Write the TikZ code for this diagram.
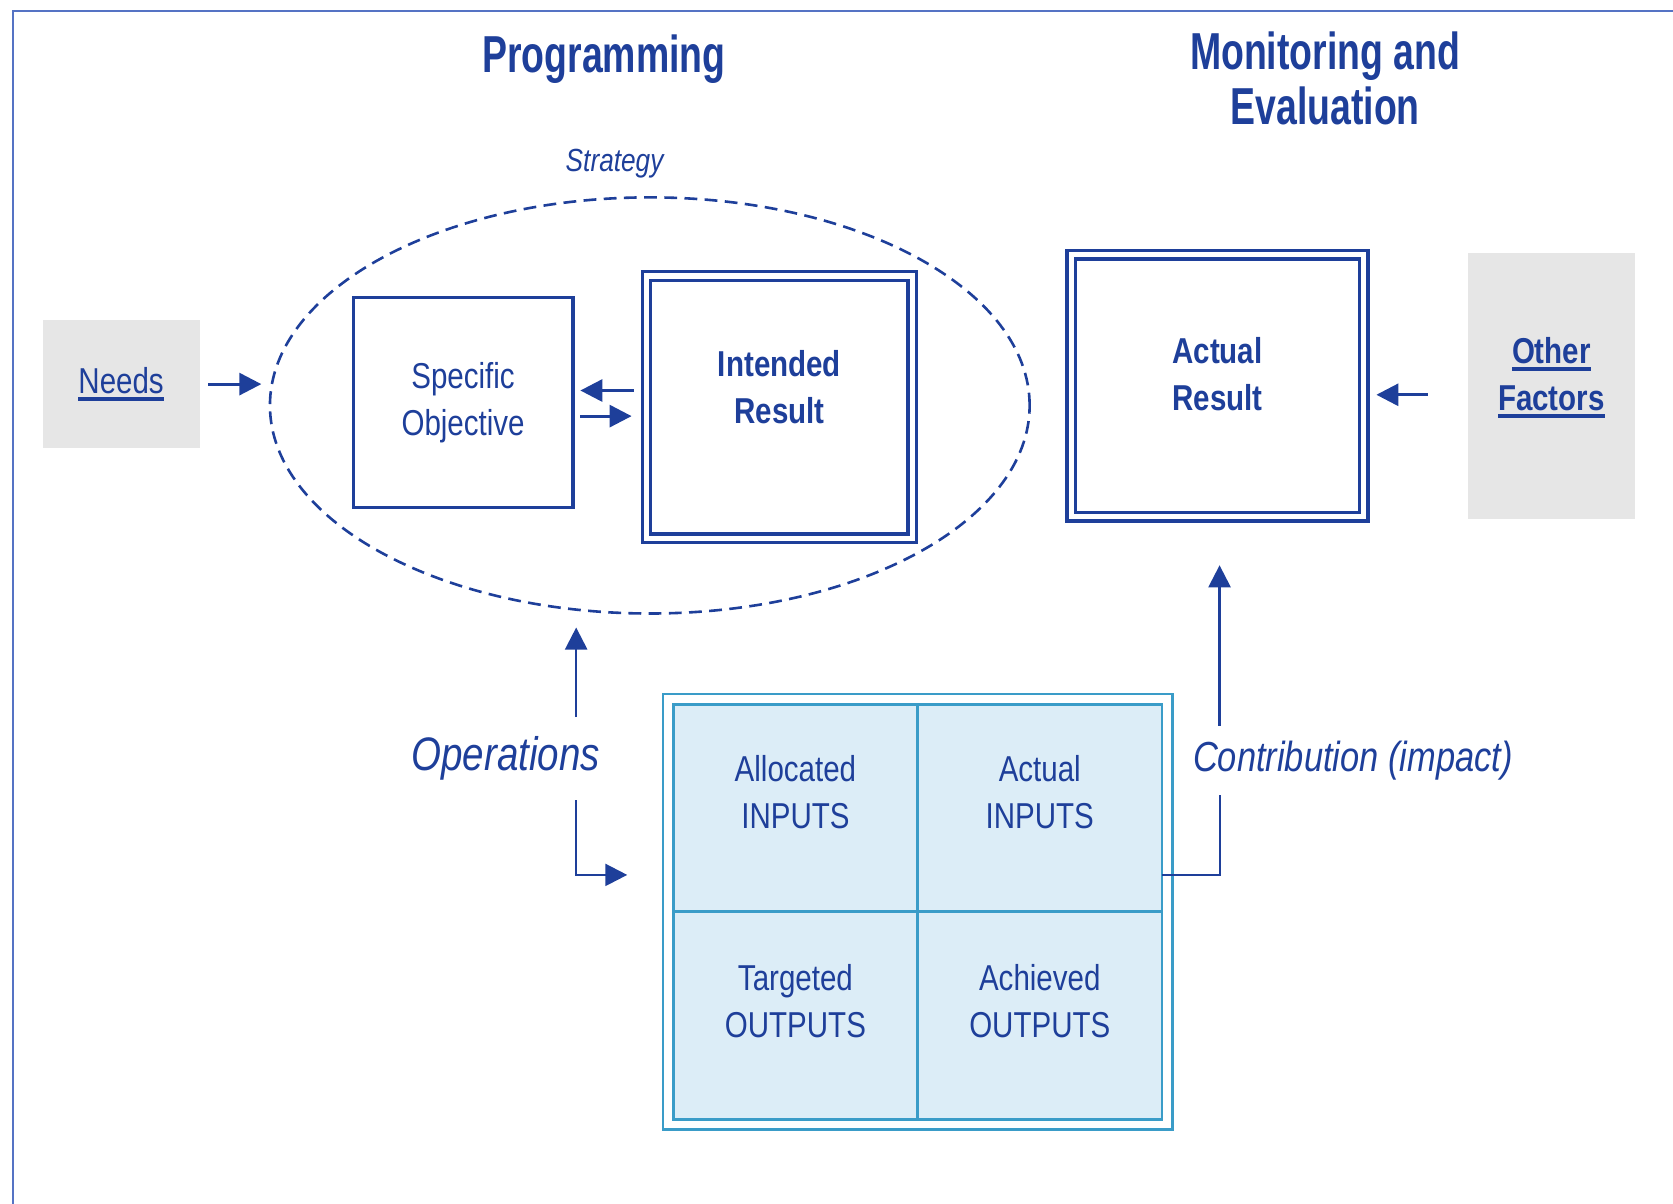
\documentclass[tikz,border=0pt]{standalone}
\usepackage{fontspec}
\setmainfont{Liberation Sans}[FakeStretch=0.82]
\newfontfamily\titlefont{Liberation Sans}[FakeStretch=0.72]
\usetikzlibrary{arrows.meta,positioning,shapes.geometric,fit,calc}

\definecolor{mainblue}{HTML}{1E3F9A}
\definecolor{frameblue}{HTML}{5573C4}
\definecolor{gridline}{HTML}{3A9CC8}
\definecolor{gridfill}{HTML}{DCEDF7}
\definecolor{boxgray}{HTML}{E6E6E6}

\def\pxu{0.5335bp}
\newcommand\boxfont{\fontsize{18bp}{23.5bp}\selectfont}
\newcommand\thickul[1]{\leavevmode\setbox0=\hbox{#1}\rlap{\copy0}\rule[-3.6bp]{\wd0}{2bp}}

\tikzset{
  box/.style={draw=mainblue, line width=1.6bp, inner sep=0pt, outer sep=0pt},
  dbox/.style={box, double=white, double distance=2.7bp},
  graybox/.style={fill=boxgray, inner sep=0pt, outer sep=0pt, text=mainblue, align=center, font=\boxfont},
  boxtext/.style={text=mainblue, align=center, font=\boxfont},
  cell/.style={draw=gridline, fill=gridfill, line width=1.4bp, inner sep=0pt, outer sep=0pt,
    minimum width=229*\pxu, minimum height=194.5*\pxu},
  title/.style={text=mainblue, align=center, anchor=base, font=\titlefont\bfseries\fontsize{26bp}{27.5bp}\selectfont},
  itlabel/.style={text=mainblue, inner sep=0pt, outer sep=0pt, font=\itshape},
  arr/.style={draw=mainblue, line width=1.2bp, -{Triangle[length=11bp,width=11bp]}},
  conn/.style={draw=mainblue, line width=1bp},
}

\begin{document}
\begin{tikzpicture}[x=0.5335bp, y=-0.5335bp]
  \useasboundingbox (0,0) rectangle (1568,1127.5);
  \draw[frameblue, line width=1.1bp] (1568,10) -- (12,10) -- (12,1128);

  % headings
  \node[title] (prog) at (566,67.5) {Programming};
  \node[title] (monev) at (1242,117) {Monitoring and\\Evaluation};

  % strategy
  \node[ellipse, draw=mainblue, line width=1.3bp, dash pattern=on 6.4bp off 3.7bp,
    minimum width=712*\pxu, minimum height=390*\pxu, inner sep=0pt, outer sep=0pt] (strategy) at (609,380) {};
  \node[itlabel, font=\itshape\fontsize{16bp}{19bp}\selectfont] (strattxt) at (576,153) {Strategy};

  \node[graybox, minimum width=147*\pxu, minimum height=120*\pxu] (needs) at (113.5,360) {\thickul{Needs}};
  \node[box, boxtext, minimum width=206*\pxu, minimum height=197*\pxu] (specobj) at (434,377.5) {Specific\\Objective};
  \node[dbox, minimum width=249*\pxu, minimum height=246*\pxu] (intended) at (730.5,381.5) {};
  \node[boxtext, font=\boxfont\bfseries] (intendedtxt) at (730.5,362.5) {Intended\\Result};

  \node[dbox, minimum width=274*\pxu, minimum height=245.5*\pxu] (actual) at (1141,361.5) {};
  \node[boxtext, font=\boxfont\bfseries] (actualtxt) at (1141,351) {Actual\\Result};
  \node[graybox, minimum width=156*\pxu, minimum height=249*\pxu] (other) at (1454,361.5) {};
  \node[boxtext, font=\boxfont\bfseries] (othertxt) at (1454,354) {\thickul{Other}\\\thickul{Factors}};

  % inputs / outputs grid
  \node[cell] (c11) at (745.5,757.25) {};
  \node[cell, right=0pt of c11] (c12) {};
  \node[cell, below=0pt of c11] (c21) {};
  \node[cell, right=0pt of c21] (c22) {};
  \node[draw=gridline, line width=1.4bp, inner sep=5.1bp, outer sep=0pt, fit=(c11)(c22)] (frame) {};
  \node[boxtext] (t11) at ($(c11.north)+(0,82)$) {Allocated\\INPUTS};
  \node[boxtext] (t12) at ($(c12.north)+(0,82)$) {Actual\\INPUTS};
  \node[boxtext] (t21) at ($(c21.north)+(0,83.5)$) {Targeted\\OUTPUTS};
  \node[boxtext] (t22) at ($(c22.north)+(0,83.5)$) {Achieved\\OUTPUTS};

  \node[itlabel, font=\itshape\fontsize{23.5bp}{26bp}\selectfont, minimum height=78*\pxu] (ops) at (474,711) {Operations};
  \node[itlabel, font=\itshape\fontsize{21bp}{24bp}\selectfont, minimum height=65*\pxu] (contrib) at (1268,712.5) {Contribution (impact)};

  % arrows
  \draw[arr, line width=1.5bp, shorten <=4.3bp, shorten >=4.3bp] (needs.east) -- (needs.east -| strategy.west);
  \coordinate (back) at ($(specobj.east)+(0,-11.5)$);
  \coordinate (fwd) at ($(specobj.east)+(0,12.5)$);
  \draw[arr, line width=1.5bp, shorten <=6.4bp, shorten >=3.7bp] (back -| intended.west) -- (back);
  \draw[arr, line width=1.5bp, shorten <=3.7bp, shorten >=7.5bp] (fwd) -- (fwd -| intended.west);
  \coordinate (ofy) at ($(other.west)+(0,8.5)$);
  \draw[arr, line width=1.5bp, shorten <=20.3bp, shorten >=6.4bp] (ofy) -- (ofy -| actual.east);

  \coordinate (opsx) at (540,820);
  \draw[arr, shorten >=7bp] (opsx |- ops.north) -- (opsx |- strategy.south);
  \draw[arr, shorten >=17.9bp] (opsx |- ops.south) -- (opsx) -- (opsx -| frame.west);

  \coordinate (impx) at (1143,820);
  \draw[conn] (impx -| c12.east) -- (impx) -- (impx |- contrib.south);
  \draw[arr, shorten >=24.3bp] (impx |- contrib.north) -- (impx |- actual.south);
\end{tikzpicture}
\end{document}
